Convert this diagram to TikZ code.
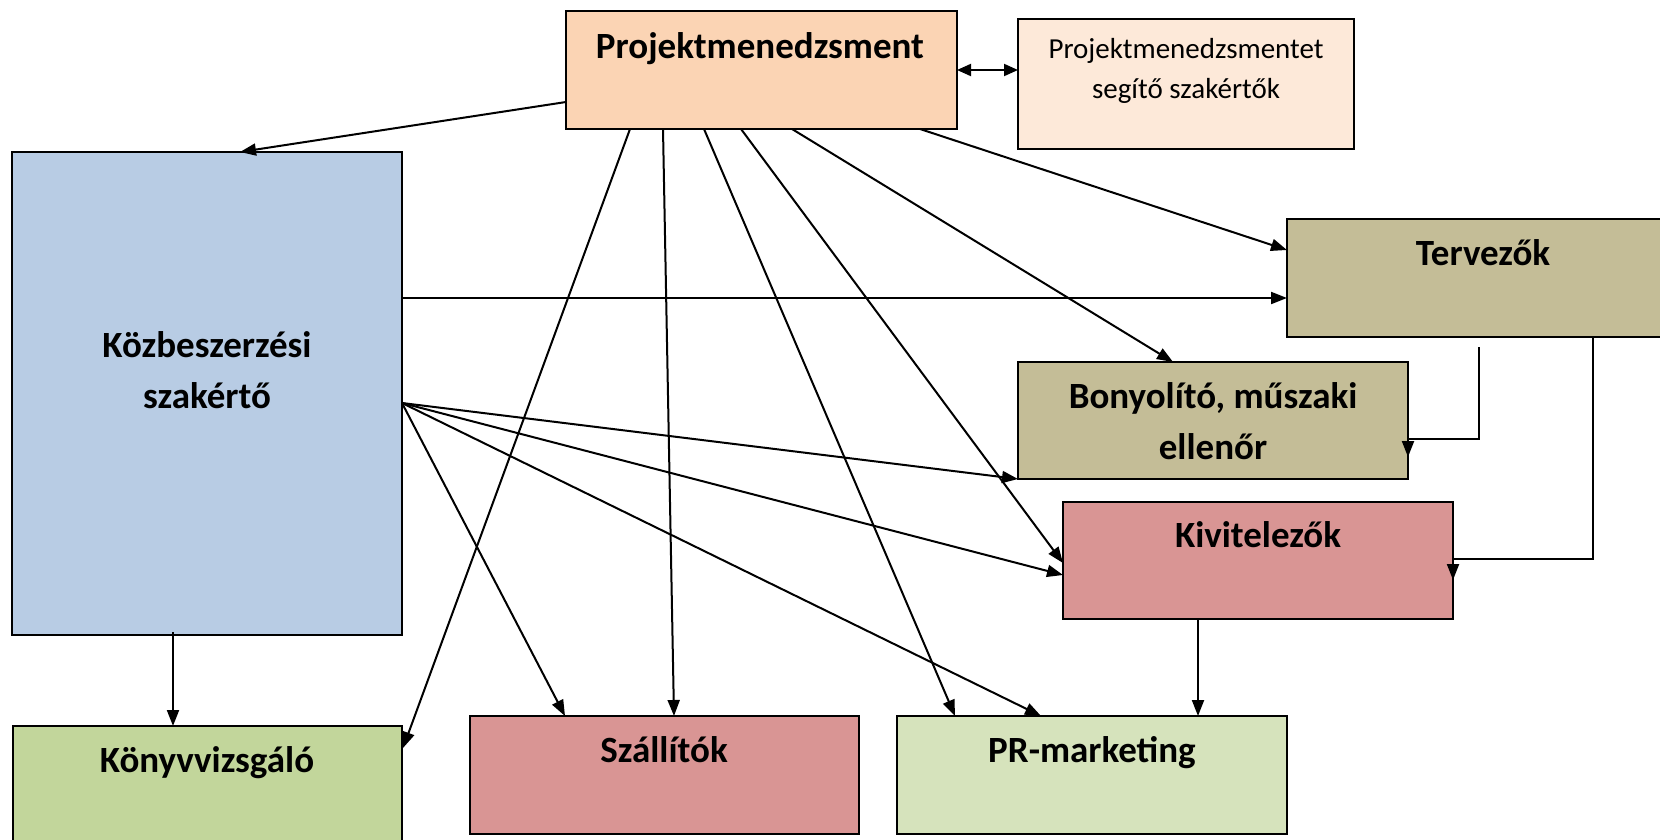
\documentclass[tikz,border=0pt]{standalone}
\usepackage{fontspec}
\setmainfont{Carlito}
\usetikzlibrary{arrows.meta,calc}
\definecolor{pmcol}{HTML}{FBD4B4}
\definecolor{helpcol}{HTML}{FDE9D9}
\definecolor{kozbcol}{HTML}{B8CCE4}
\definecolor{tervcol}{HTML}{C4BD97}
\definecolor{kivcol}{HTML}{D99594}
\definecolor{konyvcol}{HTML}{C2D69B}
\definecolor{prcol}{HTML}{D6E3BC}
\begin{document}
\begin{tikzpicture}[x=1pt,y=-1pt,
  box/.style={draw=black, line width=1.6pt, anchor=north west, inner sep=0pt, outer sep=0pt},
  conn/.style={line width=2pt, -{Triangle[length=16pt,width=12pt]}},
  dconn/.style={line width=2pt, {Triangle[length=14pt,width=12pt]}-{Triangle[length=14pt,width=12pt]}},
  btext/.style={font=\bfseries\fontsize{37}{51}\selectfont, anchor=base, align=center, inner sep=0pt},
  rtext/.style={font=\fontsize{29}{34}\selectfont, anchor=base, align=center, inner sep=0pt}]
\useasboundingbox (0,0) rectangle (1660,840);
\clip (0,0) rectangle (1660,840);
\fill[white] (0,0) rectangle (1660,840);

% boxes
\node[box, fill=pmcol, minimum width=391pt, minimum height=118pt] (pm) at (566,11) {};
\node[box, fill=helpcol, minimum width=336pt, minimum height=130pt] (helper) at (1018,19) {};
\node[box, fill=kozbcol, minimum width=390pt, minimum height=483pt] (kozb) at (12,152) {};
\node[box, fill=tervcol, minimum width=390pt, minimum height=118pt] (terv) at (1287,219) {};
\node[box, fill=tervcol, minimum width=390pt, minimum height=117pt] (bony) at (1018,362) {};
\node[box, fill=kivcol, minimum width=390pt, minimum height=117pt] (kiv) at (1063,502) {};
\node[box, fill=konyvcol, minimum width=389pt, minimum height=130pt] (konyv) at (13,726) {};
\node[box, fill=kivcol, minimum width=389pt, minimum height=118pt] (szall) at (470,716) {};
\node[box, fill=prcol, minimum width=390pt, minimum height=118pt] (pr) at (897,716) {};

% texts
\node[btext] (pmt) at (760,59) {Projektmenedzsment};
\node[rtext] (helpt1) at (1186,59) {Projektmenedzsmentet};
\node[rtext] (helpt2) at (1186,99) {segítő szakértők};
\node[btext] (tervt) at (1483,265) {Tervezők};
\node[btext] (bonyt1) at (1213,408) {Bonyolító, műszaki};
\node[btext] (bonyt2) at (1213,459) {ellenőr};
\node[btext] (kivt) at (1258,547) {Kivitelezők};
\node[btext] (kozbt1) at (207,357) {Közbeszerzési};
\node[btext] (kozbt2) at (207,408) {szakértő};
\node[btext] (konyvt) at (207,772) {Könyvvizsgáló};
\node[btext] (szallt) at (664,762) {Szállítók};
\node[btext] (prt) at (1092,762) {PR-marketing};

% connectors from Projektmenedzsment
\draw[dconn] ($(pm.north east)+(0,59)$) -- ($(helper.north west)+(0,51)$);
\draw[conn] ($(pm.north west)+(0,91)$) -- ($(kozb.north west)+(228,0)$);
\draw[conn] ($(pm.south west)+(64,0)$) -- ($(konyv.north east)+(1,22)$);
\draw[conn] ($(pm.south west)+(97,0)$) -- ($(szall.north west)+(204,0)$);
\draw[conn] ($(pm.south west)+(138,0)$) -- ($(pr.north west)+(58,0)$);
\draw[conn] ($(pm.south west)+(175,0)$) -- ($(kiv.north west)+(0,61)$);
\draw[conn] ($(pm.south west)+(226,0)$) -- ($(bony.north west)+(155,0)$);
\draw[conn] ($(pm.south west)+(354,0)$) -- ($(terv.north west)+(0,31)$);

% connectors from Közbeszerzési szakértő
\coordinate (fan) at ($(kozb.north east)+(0,251)$);
\draw[conn] ($(kozb.north east)+(0,146)$) -- ($(terv.north west)+(0,79)$);
\draw[conn] (fan) -- (bony.south west);
\draw[conn] (fan) -- ($(kiv.north west)+(0,73)$);
\draw[conn] (fan) -- ($(pr.north west)+(144,0)$);
\draw[conn] (fan) -- ($(szall.north west)+(95,0)$);
\draw[conn] ($(kozb.south west)+(161,-3)$) -- ($(konyv.north west)+(160,0)$);

% Kivitelezők -> PR
\draw[conn] ($(kiv.south west)+(135,0)$) -- ($(pr.north west)+(301,0)$);

% Tervezők elbows
\draw[conn] ($(terv.south west)+(192,10)$) |- ($(bony.north east)+(0,77)$) -- ($(bony.north east)+(0,95)$);
\draw[conn] ($(terv.south west)+(306,0)$) |- ($(kiv.north east)+(0,57)$) -- ($(kiv.north east)+(0,78)$);
\end{tikzpicture}
\end{document}
